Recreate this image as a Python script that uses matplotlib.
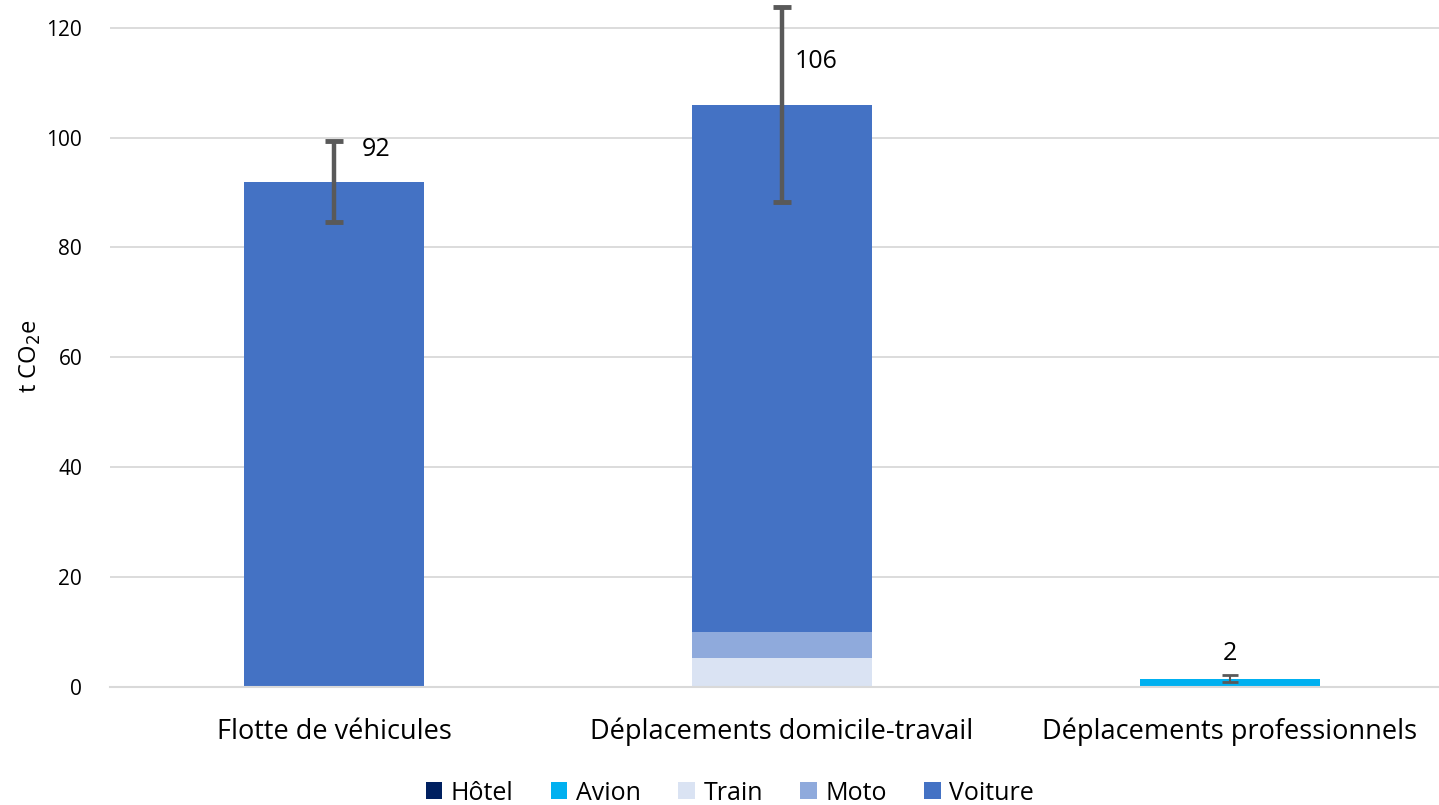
import matplotlib
matplotlib.use("Agg")
import matplotlib.pyplot as plt
import numpy as np

plt.rcParams['font.family'] = ['Open Sans', 'DejaVu Sans']

categories = ["Flotte de véhicules", "Déplacements domicile-travail", "Déplacements professionnels"]
series_names = ["Hôtel", "Avion", "Train", "Moto", "Voiture"]
hotel = [0.0, 0.0, 0.05]
avion = [0.0, 0.0, 1.45]
train = [0.0, 5.3, 0.0]
moto = [0.0, 4.7, 0.0]
voiture = [92.0, 96.0, 0.0]
totals_labels = ["92", "106", "2"]
errors = [7.3, 17.8, 0.6]
colors = ["#002060", "#00B0F0", "#DAE3F3", "#8FAADC", "#4472C4"]
yticks = [0, 20, 40, 60, 80, 100, 120]

fig = plt.figure(figsize=(14.39, 8.05), dpi=100)
W, H = 1439, 805
left, right, bottom, top = 110, 1439, 687, 3
ax = fig.add_axes([left / W, 1 - bottom / H, (right - left) / W, (bottom - top) / H])

x = np.arange(len(categories))
series = [hotel, avion, train, moto, voiture]
base = np.zeros(len(categories))
for name, vals, c in zip(series_names, series, colors):
    ax.bar(x, vals, width=0.4, bottom=base, color=c, label=name, zorder=2)
    base = base + np.array(vals)

ax.errorbar(x[:2], base[:2], yerr=errors[:2], fmt='none', ecolor='#595959', elinewidth=3.2,
            capsize=6.5, capthick=3.5, zorder=3)
ax.errorbar(x[2:], base[2:], yerr=errors[2:], fmt='none', ecolor='#595959', elinewidth=1.5,
            capsize=5.5, capthick=2, zorder=3)

offsets = [(20, 23), (9, 31), (0, 18)]
for xi, tot, lab, (dx, dy), err in zip(x, base, totals_labels, offsets, errors):
    ha = 'left' if dx else 'center'
    ax.annotate(lab, (xi, tot), xytext=(dx, dy), textcoords='offset points',
                ha=ha, va='center', fontsize=18, color='#000000')

ax.set_xlim(-0.5, -0.5 + (right - left) / 448)
ax.set_ylim(0, 124.5)
ax.set_yticks(yticks)
ax.set_yticklabels([str(v) for v in yticks], fontsize=15)
ax.set_xticks(x)
ax.set_xticklabels(categories, fontsize=19.5)
ax.tick_params(axis='both', length=0)
ax.tick_params(axis='x', pad=22)
ax.tick_params(axis='y', pad=20)
ax.grid(axis='y', color='#D9D9D9', linewidth=1.3, zorder=0)
ax.set_axisbelow(True)
for s in ['top', 'right', 'left']:
    ax.spines[s].set_visible(False)
ax.spines['bottom'].set_color('#D9D9D9')
ax.spines['bottom'].set_linewidth(1.5)

fig.text(30 / W, 1 - 356 / H, "t CO$_2$e", rotation=90, ha='center', va='center', fontsize=17)

handles, labels = ax.get_legend_handles_labels()
fig.legend(handles, labels, loc='center', bbox_to_anchor=(730 / W, 1 - 793 / H), ncol=5,
           frameon=False, fontsize=18, handlelength=0.65, handleheight=0.65,
           handletextpad=0.35, columnspacing=1.5)

fig.savefig("out.png", dpi=100)
